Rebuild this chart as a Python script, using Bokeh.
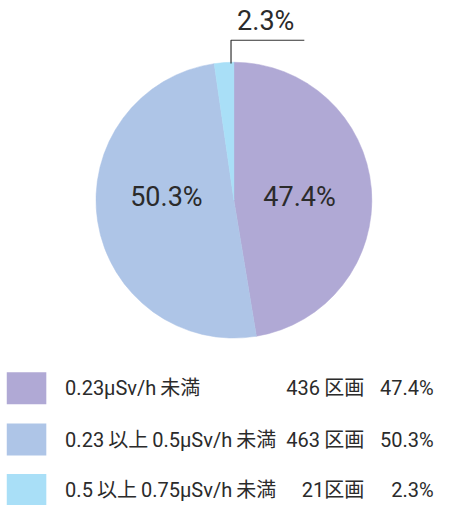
import math
from bokeh.plotting import figure
from bokeh.models import Range1d, ColumnDataSource
from bokeh.core.properties import value
from bokeh.embed import file_html
from bokeh.resources import INLINE

# ---- data ----
labels = ["0.23μSv/h\u2009未満", "0.23\u2009以上\u20090.5μSv/h\u2009未満",
          "0.5\u2009以上\u20090.75μSv/h\u2009未満"]
counts = [436, 463, 21]
count_labels = ["436\u2009区画", "463\u2009区画", "21区画"]
percents = [47.4, 50.3, 2.3]
colors = ["#B0A9D5", "#AEC5E7", "#A9DFF7"]

W, H = 435, 505          # canvas in screen px
RW, RH = 451, 521        # layout units
FONT = "Roboto, Noto Sans CJK JP, sans-serif"
TXT = "#2b2b2b"

p = figure(width=W, height=H, output_backend="svg", toolbar_location=None,
           x_range=Range1d(0, RW), y_range=Range1d(0, RH), min_border=0)
p.axis.visible = False
p.grid.visible = False
p.outline_line_color = None
p.background_fill_color = "white"

def Y(y):
    return RH - y

# pie
cx, cy, R = 242, Y(206), 143
total = sum(counts)
starts, ends = [], []
a = math.pi / 2
for c in counts:
    starts.append(a)
    a -= 2 * math.pi * c / total
    ends.append(a)
src = ColumnDataSource(dict(start=starts, end=ends, color=colors))
p.wedge(x=cx, y=cy, radius=R, start_angle="start", end_angle="end",
        direction="clock", fill_color="color", line_color="color", line_width=0.5,
        source=src)

# slice labels
p.text(x=[310, 172], y=[Y(203), Y(203)],
       text=[f"{percents[0]}%", f"{percents[1]}%"], text_font=value(FONT),
       text_font_size="27px", text_align="center", text_baseline="middle",
       text_color=TXT)
# small slice label with leader
p.line(x=[239, 239, 315], y=[Y(65), Y(41), Y(41)],
       line_color="#333333", line_width=1.2)
p.text(x=[275], y=[Y(38)], text=[f"{percents[2]}%"],
       text_font=value(FONT), text_font_size="27px", text_align="center",
       text_baseline="bottom", text_color=TXT)

# legend
rows_y = [Y(400), Y(453), Y(505)]
p.rect(x=[27] * 3, y=rows_y, width=41, height=33, fill_color=colors,
       line_color=None)
p.text(x=[67] * 3, y=rows_y, text=labels, text_font=value(FONT),
       text_font_size="20px", text_baseline="middle", text_color=TXT)
p.text(x=[377] * 3, y=rows_y, text=count_labels, text_font=value(FONT),
       text_font_size="20px", text_align="right", text_baseline="middle",
       text_color=TXT)
p.text(x=[449] * 3, y=rows_y, text=[f"{v}%" for v in percents],
       text_font=value(FONT), text_font_size="20px", text_align="right",
       text_baseline="middle", text_color=TXT)

open("out.html", "w").write(file_html(p, INLINE))
